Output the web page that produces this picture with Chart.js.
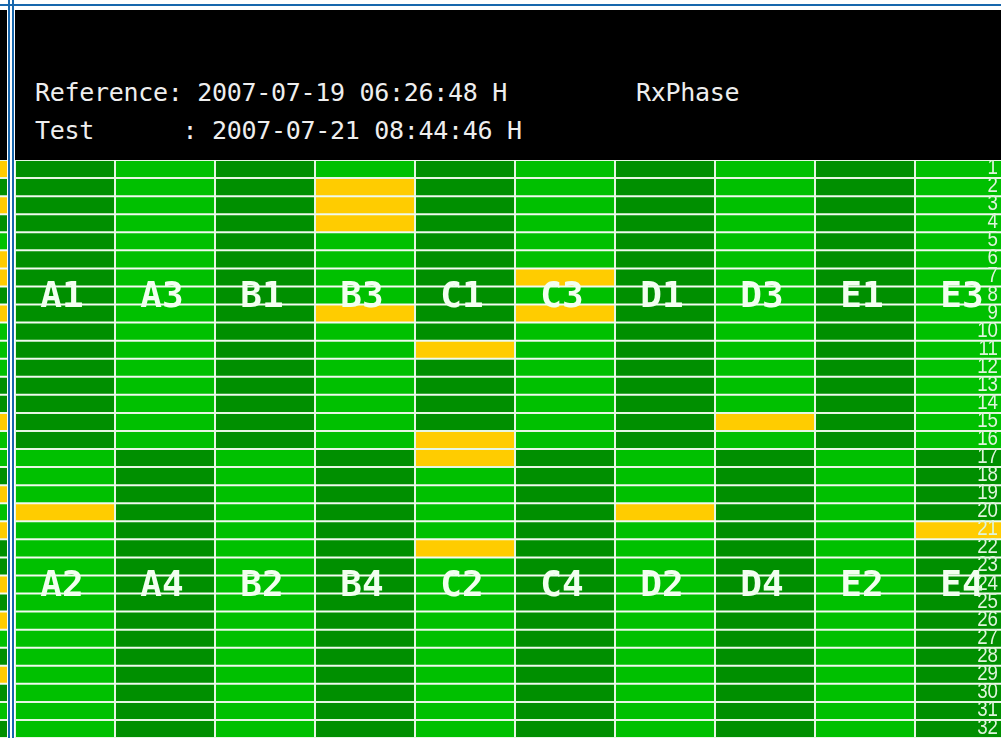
<!DOCTYPE html>
<html>
<head>
<meta charset="utf-8">
<title>RxPhase</title>
<script src="https://cdn.jsdelivr.net/npm/chart.js@4.4.0/dist/chart.umd.min.js"></script>
<style>
    html, body { margin: 0; padding: 0; background: #fff; }
    body { position: relative; width: 1001px; height: 738px; overflow: hidden; }
    .abs { position: absolute; }
    #topLine { left: 0; top: 4px; width: 1001px; height: 2px; background: #1767ad; }
    #leftBlack { left: 0; top: 10px; width: 8px; height: 150px; background: #000; }
    #header { left: 14px; top: 10px; width: 987px; height: 150px; background: #000; }
    #gap { left: 7px; top: 0; width: 8px; height: 738px; background: #fff; }
    .vline { top: 0; width: 2px; height: 738px; background: #1767ad; }
    #gridWrap { left: 0; top: 160px; width: 1001px; height: 578px; }
    .txt {
        font-family: "DejaVu Sans Mono", monospace;
        font-size: 25px;
        line-height: 25px;
        color: #eeeeee;
        white-space: pre;
        letter-spacing: -0.3px;
    }
</style>
</head>
<body>
<div class="abs" id="leftBlack"></div>
<div class="abs" id="header"></div>
<div class="abs" id="gridWrap"><canvas id="grid" width="1001" height="578"></canvas></div>
<div class="abs" id="gap"></div>
<div class="abs vline" style="left:8px"></div>
<div class="abs vline" style="left:12px"></div>
<div class="abs" id="topLine"></div>
<div class="abs txt" style="left:35px; top:80px">Reference: 2007-07-19 06:26:48 H</div>
<div class="abs txt" style="left:636px; top:80px">RxPhase</div>
<div class="abs txt" style="left:35px; top:118px">Test      : 2007-07-21 08:44:46 H</div>

<script>
// row numbers down the right edge
const rowLabels = ['1', '2', '3', '4', '5', '6', '7', '8', '9', '10', '11', '12', '13', '14', '15', '16',
    '17', '18', '19', '20', '21', '22', '23', '24', '25', '26', '27', '28', '29', '30', '31', '32'];

// big labels, upper half (row 8) and lower half (row 24)
const topLabels = ['A1', 'A3', 'B1', 'B3', 'C1', 'C3', 'D1', 'D3', 'E1', 'E3'];
const bottomLabels = ['A2', 'A4', 'B2', 'B4', 'C2', 'C4', 'D2', 'D4', 'E2', 'E4'];

// cell state per row (1..32): 0 = dark green, 1 = light green, 2 = yellow
const colA1A2 = [0,0,0,0,0,0,0,0,0,0,0,0,0,0,0,0, 1,1,1,2,1,1,1,1,1,1,1,1,1,1,1,1];
const colA3A4 = [1,1,1,1,1,1,1,1,1,1,1,1,1,1,1,1, 0,0,0,0,0,0,0,0,0,0,0,0,0,0,0,0];
const colB1B2 = [0,0,0,0,0,0,0,0,0,0,0,0,0,0,0,0, 1,1,1,1,1,1,1,1,1,1,1,1,1,1,1,1];
const colB3B4 = [1,2,2,2,1,1,1,1,2,1,1,1,1,1,1,1, 0,0,0,0,0,0,0,0,0,0,0,0,0,0,0,0];
const colC1C2 = [0,0,0,0,0,0,0,0,0,0,2,0,0,0,0,2, 2,1,1,1,1,2,1,1,1,1,1,1,1,1,1,1];
const colC3C4 = [1,1,1,1,1,1,2,1,2,1,1,1,1,1,1,1, 0,0,0,0,0,0,0,0,0,0,0,0,0,0,0,0];
const colD1D2 = [0,0,0,0,0,0,0,0,0,0,0,0,0,0,0,0, 1,1,1,2,1,1,1,1,1,1,1,1,1,1,1,1];
const colD3D4 = [1,1,1,1,1,1,1,1,1,1,1,1,1,1,2,1, 0,0,0,0,0,0,0,0,0,0,0,0,0,0,0,0];
const colE1E2 = [0,0,0,0,0,0,0,0,0,0,0,0,0,0,0,0, 1,1,1,1,1,1,1,1,1,1,1,1,1,1,1,1];
const colE3E4 = [1,1,1,1,1,1,1,1,1,1,1,1,1,1,1,1, 0,0,0,0,2,0,0,0,0,0,0,0,0,0,0,0];

// sliver of the neighbouring panel at the left edge
const neighbourCol = [2,0,2,0,1,2,2,0,2,1,1,1,0,0,2,1, 1,0,2,1,2,0,0,2,0,2,1,0,2,0,1,0];

const columns = [colA1A2, colA3A4, colB1B2, colB3B4, colC1C2, colC3C4, colD1D2, colD3D4, colE1E2, colE3E4];
const stateColors = ['#008f00', '#00c000', '#ffcc00'];
const lineColor = '#e6f7e2';

function makeColumn(states, idx) {
    return {
        data: states.map(() => [idx, idx + 1]),
        backgroundColor: states.map(s => stateColors[s]),
        borderColor: lineColor,
        borderWidth: 1,
        borderSkipped: false,
        inflateAmount: 0,
        barPercentage: 1,
        categoryPercentage: 1,
        grouped: false
    };
}

const datasets = columns.map((c, i) => makeColumn(c, i));
datasets.push(makeColumn(neighbourCol, -1));

// white cell labels and row numbers, placed from the scales
const cellText = {
    id: 'cellText',
    afterDatasetsDraw(chart) {
        const { ctx, chartArea } = chart;
        const x = chart.scales.x;
        const y = chart.scales.y;
        ctx.save();
        ctx.fillStyle = '#f2fff0';
        ctx.textAlign = 'center';
        ctx.textBaseline = 'middle';
        ctx.font = 'bold 36px "DejaVu Sans Mono", monospace';
        topLabels.forEach((t, i) => {
            ctx.fillText(t, x.getPixelForValue(i + 0.5) - 3, y.getPixelForValue(7) + 2);
        });
        bottomLabels.forEach((t, i) => {
            ctx.fillText(t, x.getPixelForValue(i + 0.5) - 3, y.getPixelForValue(23) + 2);
        });

        ctx.fillStyle = '#dff5dc';
        ctx.textAlign = 'right';
        ctx.font = '22px "Liberation Sans", Arial, sans-serif';
        rowLabels.forEach((t, i) => {
            ctx.save();
            ctx.translate(chartArea.right - 3, y.getPixelForValue(i) - 1);
            ctx.scale(0.85, 1);
            ctx.fillText(t, 0, 0);
            ctx.restore();
        });
        ctx.restore();
    }
};

new Chart(document.getElementById('grid'), {
    type: 'bar',
    data: { labels: rowLabels, datasets: datasets },
    options: {
        indexAxis: 'y',
        responsive: false,
        animation: false,
        layout: { padding: 0 },
        plugins: { legend: { display: false }, tooltip: { enabled: false } },
        scales: {
            x: { type: 'linear', min: -0.15, max: 9.86, display: false },
            y: { type: 'category', offset: true, display: false }
        }
    },
    plugins: [cellText]
});
</script>
</body>
</html>
